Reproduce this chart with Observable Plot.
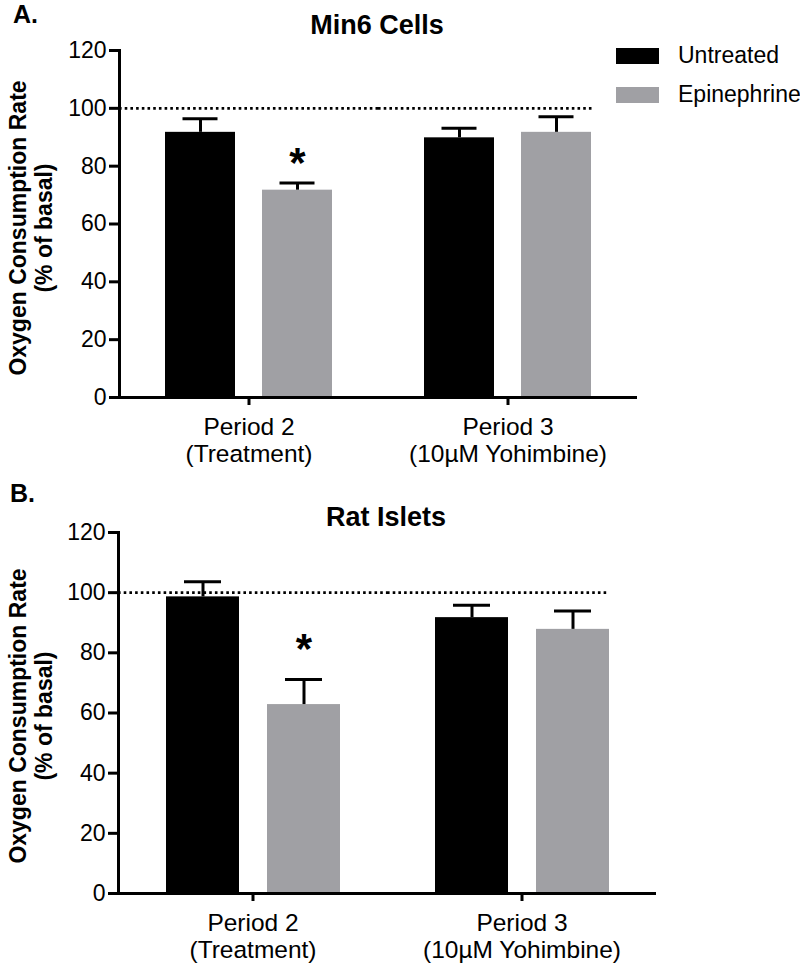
<!DOCTYPE html>
<html><head><meta charset="utf-8">
<script src="https://cdn.jsdelivr.net/npm/d3@7"></script>
<script src="https://cdn.jsdelivr.net/npm/@observablehq/plot@0.6"></script>
<style>
body{margin:0;background:#fff;font-family:"Liberation Sans",Arial,sans-serif;}
#wrap{position:relative;width:800px;height:963px;overflow:hidden;background:#fff}
.abs{position:absolute;line-height:1;white-space:nowrap;color:#000}
.bold{font-weight:bold}
.ylab{position:absolute;white-space:nowrap;color:#000;font-weight:bold;font-size:23px;line-height:26px;text-align:center;transform:translate(-50%,-50%) rotate(-90deg)}
.sw{position:absolute;width:43px;height:16px}
svg{position:absolute;left:0}
</style></head><body><div id="wrap"></div>
<script>
// ---- data ----
const periods = ["Period 2", "Period 3"];
const periodNotes = ["(Treatment)", "(10µM Yohimbine)"];
const treatments = ["Untreated", "Epinephrine"];
const treatmentColors = ["#000000", "#a0a0a4"];
const yTicks = [0, 20, 40, 60, 80, 100, 120];
const baselineLevel = 100;

const panelTitles = ["Min6 Cells", "Rat Islets"];
const panelLetters = ["A.", "B."];
const yLabelLines = ["Oxygen Consumption Rate", "(% of basal)"];

// order: Period 2 Untreated, Period 2 Epinephrine, Period 3 Untreated, Period 3 Epinephrine
const min6Means = [91.7, 71.7, 89.8, 91.7];
const min6Errors = [4.7, 2.5, 3.3, 5.4];
const ratMeans = [98.6, 62.8, 91.7, 87.8];
const ratErrors = [5.0, 8.3, 4.1, 6.1];

// significance stars: [period, treatment, level]
const min6Stars = [["Period 2", "Epinephrine", 83]];
const ratStars = [["Period 2", "Epinephrine", 83]];

function rowsOf(means, errors) {
  const rows = [];
  periods.forEach((p, i) => treatments.forEach((t, j) => {
    const k = i * treatments.length + j;
    rows.push({period: p, treatment: t, value: means[k], top: means[k] + errors[k]});
  }));
  return rows;
}

function panel(means, errors, stars, dims) {
  const rows = rowsOf(means, errors);
  const starRows = stars.map(([p, t, y]) => ({period: p, treatment: t, y}));
  const font = '"Liberation Sans", Arial, sans-serif';
  const dotted = {stroke: "#000", strokeWidth: 2.6, strokeDasharray: "2.6,3.1"};
  return Plot.plot({
    width: 800,
    height: dims.height,
    marginTop: dims.marginTop,
    marginBottom: dims.marginBottom,
    marginLeft: dims.marginLeft,
    marginRight: dims.marginRight,
    style: {fontFamily: font, fontSize: "23px", color: "#000", background: "transparent", overflow: "visible"},
    fx: {domain: periods, padding: 0, label: null},
    x: {domain: treatments, paddingInner: 0.28, paddingOuter: 0.47, axis: null},
    y: {domain: [0, 120], label: null},
    color: {domain: treatments, range: treatmentColors},
    marks: [
      Plot.barY(rows, {fx: "period", x: "treatment", y: "value", fill: "treatment"}),
      Plot.ruleY([baselineLevel], {...dotted, fx: () => periods[0]}),
      Plot.ruleY([baselineLevel], {...dotted, fx: () => periods[1], insetRight: dims.dotInset}),
      Plot.ruleX(rows, {fx: "period", x: "treatment", y1: "value", y2: "top", stroke: "#000", strokeWidth: 3}),
      Plot.tickY(rows, {fx: "period", x: "treatment", y: "top", stroke: "#000", strokeWidth: 3,
        insetLeft: dims.capInset, insetRight: dims.capInset}),
      Plot.text(starRows, {fx: "period", x: "treatment", y: "y", text: () => "*",
        fontSize: 42, fontWeight: "bold", lineAnchor: "middle", dy: 6}),
      Plot.ruleY([0], {stroke: "#000", strokeWidth: 3}),
      Plot.frame({anchor: "left", stroke: "#000", strokeWidth: 3, fx: () => periods[0]}),
      Plot.axisY({ticks: yTicks, tickSize: 10, tickPadding: 3, strokeWidth: 3,
        label: null, fontSize: 23}),
      Plot.axisFx({anchor: "bottom", tickSize: 8, tickPadding: 10, strokeWidth: 3, label: null,
        fontSize: 24.5, lineHeight: 1.12,
        tickFormat: (p) => p + "\n" + periodNotes[periods.indexOf(p)]})
    ]
  });
}

const wrap = document.getElementById("wrap");
function addDiv(cls, text, css) {
  const d = document.createElement("div");
  d.className = cls;
  d.textContent = text;
  Object.assign(d.style, css);
  wrap.appendChild(d);
  return d;
}

// panel A
const svgA = panel(min6Means, min6Errors, min6Stars,
  {height: 470, marginTop: 50, marginBottom: 73, marginLeft: 118, marginRight: 163, capInset: 17.5, dotInset: 43});
svgA.style.top = "0px";
wrap.appendChild(svgA);

// panel B
const svgB = panel(ratMeans, ratErrors, ratStars,
  {height: 483, marginTop: 52, marginBottom: 70, marginLeft: 117, marginRight: 144, capInset: 18, dotInset: 48});
svgB.style.top = "480px";
wrap.appendChild(svgB);

// letters & titles
addDiv("abs bold", panelLetters[0], {left: "13px", top: "2px", fontSize: "25px"});
addDiv("abs bold", panelTitles[0], {left: "377px", top: "12px", fontSize: "27px", transform: "translateX(-50%)"});
addDiv("abs bold", panelLetters[1], {left: "10px", top: "481px", fontSize: "25px"});
addDiv("abs bold", panelTitles[1], {left: "386px", top: "504px", fontSize: "27px", transform: "translateX(-50%)"});

// y labels
[228, 716].forEach((cy) => {
  const d = document.createElement("div");
  d.className = "ylab";
  d.innerHTML = yLabelLines.map((s) => s.replace(/&/g, "&amp;")).join("<br>");
  d.style.left = "31px";
  d.style.top = cy + "px";
  wrap.appendChild(d);
});

// legend
treatments.forEach((t, i) => {
  const y = 48 + i * 39;
  const sw = document.createElement("div");
  sw.className = "sw";
  sw.style.left = "616px";
  sw.style.top = y + "px";
  sw.style.background = treatmentColors[i];
  wrap.appendChild(sw);
  addDiv("abs", t, {left: "678px", top: (y - 4.5) + "px", fontSize: "23px"});
});
</script></body></html>
